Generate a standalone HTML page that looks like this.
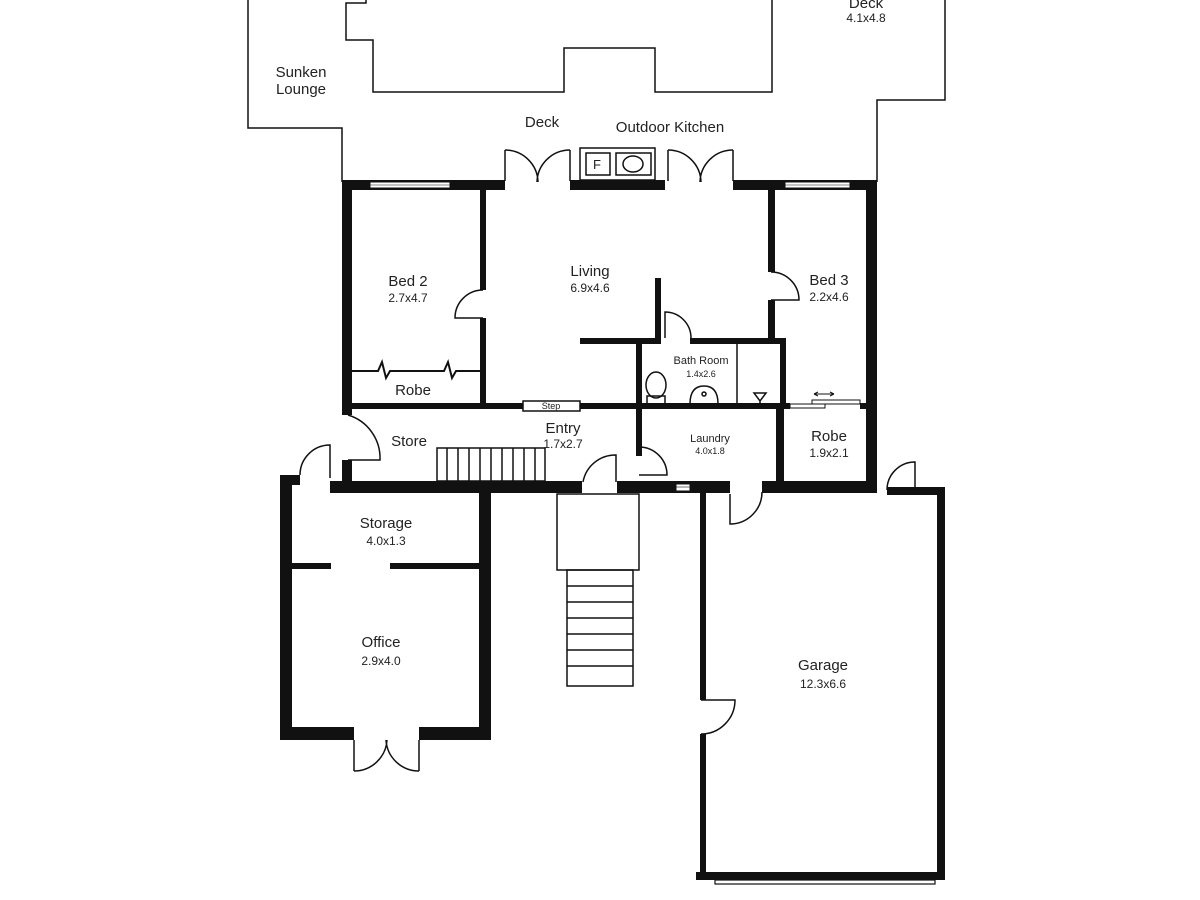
<!DOCTYPE html>
<html><head><meta charset="utf-8"><style>
html,body{margin:0;padding:0;background:#fff;}
svg{display:block;}
text{font-family:"Liberation Sans",Arial,sans-serif;fill:#222;text-anchor:middle;}
</style></head><body>
<svg width="1200" height="900" viewBox="0 0 1200 900" xmlns="http://www.w3.org/2000/svg">
<g fill="none" stroke="#111" stroke-width="1.5">
<!-- outline -->
<polyline points="248,0 248,128 342,128 342,182"/>
<polyline points="366,0 366,3 346,3 346,40 373,40 373,92 564,92 564,48 655,48 655,92 772,92 772,0"/>
<polyline points="945,0 945,100 877,100 877,182"/>
<!-- top doors -->
<line x1="505" y1="150" x2="505" y2="181"/><line x1="570" y1="150" x2="570" y2="181"/>
<path d="M505,150 A33,33 0 0 1 538,182 M570,150 A33,33 0 0 0 537,182"/>
<line x1="668" y1="150" x2="668" y2="181"/><line x1="733" y1="150" x2="733" y2="181"/>
<path d="M668,150 A33,33 0 0 1 701,182 M733,150 A33,33 0 0 0 700,182"/>
<rect x="580" y="148" width="75" height="32"/>
<rect x="586" y="153" width="24" height="22"/>
<rect x="616" y="153" width="35" height="22"/>
<ellipse cx="633" cy="164" rx="10" ry="8"/>
<!-- bed2 door -->
<path d="M483,290 A28,28 0 0 0 455,318 L483,318"/>
<!-- bed3 door -->
<path d="M771,272 A28,28 0 0 1 799,300 L771,300"/>
<!-- bath door -->
<path d="M665,338 L665,312 A26,26 0 0 1 691,338"/>
<!-- bath partition -->
<line x1="737" y1="344" x2="737" y2="404"/>
<!-- toilet / basin -->
<ellipse cx="656" cy="385" rx="10" ry="13"/>
<rect x="647" y="396" width="18" height="8"/>
<path d="M690,404 Q690,386 704,386 Q718,386 718,404"/>
<circle cx="704" cy="394" r="2"/>
<path d="M754,393 L766,393 L760,401 Z M760,401 L760,404"/>
<!-- robe zigzag -->
<polyline points="352,371 378,371 382,362 386,378 390,371 444,371 448,362 452,378 456,371 480,371" stroke-width="2"/>
<!-- right robe sliding -->
<rect x="790" y="404" width="35" height="4" stroke-width="1"/>
<rect x="812" y="400" width="48" height="4" stroke-width="1"/>
<path d="M814,394 L834,394 M814,394 l4,-2 M814,394 l4,2 M834,394 l-4,-2 M834,394 l-4,2" stroke-width="1"/>
<!-- store door -->
<path d="M348,415 A45,45 0 0 1 380,460 L348,460"/>
<!-- outer door near store -->
<path d="M330,478 L330,445 A30,30 0 0 0 300,475"/>
<!-- store stairs -->
<rect x="437" y="448" width="108" height="33"/>
<line x1="447" y1="448" x2="447" y2="481"/><line x1="458" y1="448" x2="458" y2="481"/>
<line x1="469" y1="448" x2="469" y2="481"/><line x1="480" y1="448" x2="480" y2="481"/>
<line x1="491" y1="448" x2="491" y2="481"/><line x1="502" y1="448" x2="502" y2="481"/>
<line x1="513" y1="448" x2="513" y2="481"/><line x1="524" y1="448" x2="524" y2="481"/>
<line x1="535" y1="448" x2="535" y2="481"/>
<!-- entry door -->
<path d="M583,482 A33,33 0 0 1 616,455 L616,482"/>
<!-- laundry door -->
<path d="M639,447 A28,28 0 0 1 667,475 L639,475"/>
<!-- laundry->garage door -->
<path d="M730,494 L730,524 A32,32 0 0 0 762,492"/>
<!-- garage outer door -->
<path d="M887,490 A28,28 0 0 1 915,462 L915,490"/>
<!-- garage side door -->
<path d="M701,700 L735,700 A34,34 0 0 1 701,734"/>
<!-- entry stairs -->
<rect x="557" y="494" width="82" height="76"/>
<rect x="567" y="570" width="66" height="116"/>
<line x1="567" y1="586" x2="633" y2="586"/><line x1="567" y1="602" x2="633" y2="602"/>
<line x1="567" y1="618" x2="633" y2="618"/><line x1="567" y1="634" x2="633" y2="634"/>
<line x1="567" y1="650" x2="633" y2="650"/><line x1="567" y1="666" x2="633" y2="666"/>
<!-- office doors -->
<line x1="354" y1="740" x2="354" y2="771"/><line x1="419" y1="740" x2="419" y2="771"/>
<path d="M354,771 A33,33 0 0 0 387,740 M419,771 A33,33 0 0 1 386,740"/>
<!-- garage door line -->
<rect x="715" y="880" width="220" height="4" stroke-width="1.2"/>
</g>
<g fill="#111">
<!-- top wall -->
<rect x="342" y="180" width="163" height="10"/>
<rect x="570" y="180" width="95" height="10"/>
<rect x="733" y="180" width="144" height="10"/>
<!-- left wall -->
<rect x="342" y="180" width="10" height="235"/>
<rect x="342" y="460" width="10" height="25"/>
<!-- bed2 right wall -->
<rect x="480" y="190" width="6" height="100"/>
<rect x="480" y="318" width="6" height="88"/>
<!-- living/bed3 wall -->
<rect x="768" y="190" width="7" height="82"/>
<rect x="768" y="300" width="7" height="40"/>
<!-- right outer wall -->
<rect x="866" y="180" width="11" height="312"/>
<!-- bath walls -->
<rect x="580" y="338" width="80" height="6"/>
<rect x="655" y="278" width="6" height="66"/>
<rect x="690" y="338" width="96" height="6"/>
<rect x="636" y="338" width="6" height="118"/>
<rect x="780" y="338" width="6" height="66"/>
<!-- horizontal mid wall -->
<rect x="342" y="403" width="448" height="6"/>
<rect x="860" y="403" width="8" height="6"/>
<!-- right robe wall -->
<rect x="776" y="404" width="8" height="88"/>
<!-- bottom wall of entry -->
<rect x="330" y="481" width="252" height="12"/>
<rect x="617" y="481" width="113" height="12"/>
<rect x="762" y="481" width="115" height="12"/>
<!-- garage -->
<rect x="700" y="481" width="6" height="219"/>
<rect x="700" y="734" width="6" height="146"/>
<rect x="887" y="487" width="58" height="8"/>
<rect x="937" y="487" width="8" height="393"/>
<rect x="696" y="872" width="249" height="8"/>
<!-- office/storage -->
<rect x="280" y="475" width="12" height="265"/>
<rect x="280" y="475" width="20" height="10"/>
<rect x="479" y="481" width="12" height="259"/>
<rect x="280" y="727" width="74" height="13"/>
<rect x="419" y="727" width="72" height="13"/>
<rect x="292" y="563" width="39" height="6"/>
<rect x="390" y="563" width="89" height="6"/>
</g>
<!-- windows -->
<g fill="#fff" stroke="#111" stroke-width="1">
<rect x="370" y="182" width="80" height="6"/>
<rect x="785" y="182" width="65" height="6"/>
<rect x="676" y="484" width="14" height="7"/>
<rect x="523" y="401" width="57" height="10" stroke-width="1.5"/>
</g>
<g stroke="#111" stroke-width="0.6">
<line x1="370" y1="185" x2="450" y2="185"/><line x1="785" y1="185" x2="850" y2="185"/>
<line x1="676" y1="487" x2="690" y2="487"/>
</g>
<!-- labels -->
<text x="866" y="8" font-size="15">Deck</text>
<text x="866" y="22" font-size="12">4.1x4.8</text>
<text x="301" y="77" font-size="15">Sunken</text>
<text x="301" y="94" font-size="15">Lounge</text>
<text x="542" y="127" font-size="15">Deck</text>
<text x="670" y="132" font-size="15">Outdoor Kitchen</text>
<text x="597" y="169" font-size="13">F</text>
<text x="408" y="286" font-size="15">Bed 2</text>
<text x="408" y="302" font-size="12">2.7x4.7</text>
<text x="590" y="276" font-size="15">Living</text>
<text x="590" y="292" font-size="12">6.9x4.6</text>
<text x="829" y="285" font-size="15">Bed 3</text>
<text x="829" y="301" font-size="12">2.2x4.6</text>
<text x="701" y="364" font-size="11">Bath Room</text>
<text x="701" y="377" font-size="9">1.4x2.6</text>
<text x="413" y="395" font-size="15">Robe</text>
<text x="551" y="409" font-size="9">Step</text>
<text x="409" y="446" font-size="15">Store</text>
<text x="563" y="433" font-size="15">Entry</text>
<text x="563" y="448" font-size="12">1.7x2.7</text>
<text x="710" y="442" font-size="11">Laundry</text>
<text x="710" y="454" font-size="9">4.0x1.8</text>
<text x="829" y="441" font-size="15">Robe</text>
<text x="829" y="457" font-size="12">1.9x2.1</text>
<text x="386" y="528" font-size="15">Storage</text>
<text x="386" y="545" font-size="12">4.0x1.3</text>
<text x="381" y="647" font-size="15">Office</text>
<text x="381" y="665" font-size="12">2.9x4.0</text>
<text x="823" y="670" font-size="15">Garage</text>
<text x="823" y="688" font-size="12">12.3x6.6</text>
</svg>
</body></html>
